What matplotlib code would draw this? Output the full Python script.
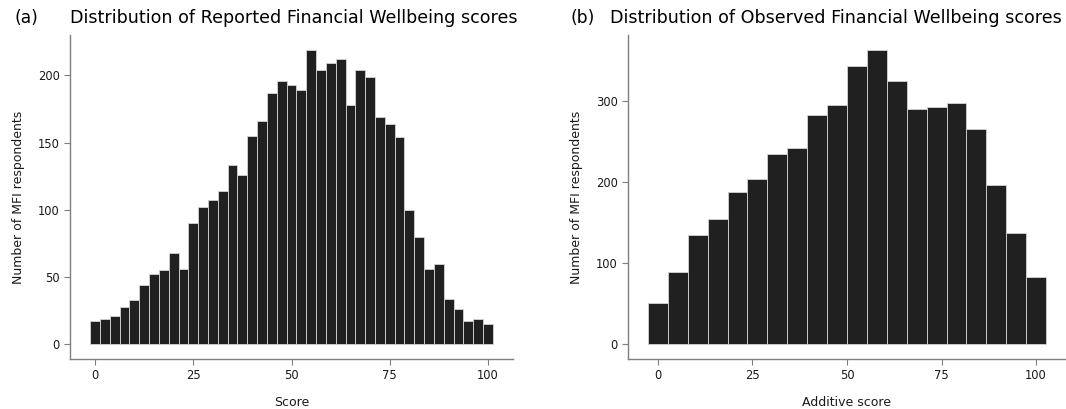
import numpy as np
import matplotlib
matplotlib.use('Agg')
import matplotlib.pyplot as plt

# (a) reported scores, bins of width 2.5 centred on 0, 2.5, ..., 100
reported_centers = np.arange(0, 100.1, 2.5)
reported_counts = [17, 19, 21, 28, 33, 44, 52, 55, 68, 56,
                   90, 102, 107, 114, 133, 126, 155, 166, 187, 196,
                   193, 189, 219, 204, 209, 212, 178, 204, 199, 169,
                   164, 154, 100, 80, 56, 60, 34, 26, 17, 19, 15]

# (b) observed additive scores, 20 bins centred between 0 and 100
observed_centers = np.linspace(0, 100, 20)
observed_counts = [51, 89, 135, 155, 188, 204, 234, 242, 283, 295,
                   343, 363, 325, 290, 293, 297, 265, 196, 137, 83]

titles = ['Distribution of Reported Financial Wellbeing scores',
          'Distribution of Observed Financial Wellbeing scores']
xlabels = ['Score', 'Additive score']
panel_tags = ['(a)', '(b)']

W, H = 1066, 409
fig = plt.figure(figsize=(W / 100, H / 100), dpi=100)


def px_axes(l, t, r, b):
    return fig.add_axes([l / W, 1 - b / H, (r - l) / W, (b - t) / H])


def style(ax):
    for s in ['top', 'right']:
        ax.spines[s].set_visible(False)
    for s in ['left', 'bottom']:
        ax.spines[s].set_color('#7f7f7f')
        ax.spines[s].set_linewidth(1.0)
    ax.tick_params(colors='#7f7f7f', labelcolor='#1a1a1a', labelsize=8.3,
                   length=4, width=0.8)
    ax.set_xticks([0, 25, 50, 75, 100])


ax1 = px_axes(70, 35, 513, 359)
w1 = reported_centers[1] - reported_centers[0]
ax1.bar(reported_centers, reported_counts, width=w1, color='#202020',
        edgecolor='#d4d4d4', linewidth=0.6)
ax1.set_xlim(-1.25 - 5.125, 101.25 + 5.125)
ax1.set_ylim(-10.95, 229.95)
ax1.set_yticks([0, 50, 100, 150, 200])
style(ax1)

ax2 = px_axes(628, 35, 1066, 359)
w2 = observed_centers[1] - observed_centers[0]
ax2.bar(observed_centers, observed_counts, width=w2, color='#202020',
        edgecolor='#d4d4d4', linewidth=0.6)
ax2.set_xlim(-w2 / 2 - 5.26, 100 + w2 / 2 + 5.26)
ax2.set_ylim(-18.15, 381.15)
ax2.set_yticks([0, 100, 200, 300])
style(ax2)

for ax, xl in zip([ax1, ax2], xlabels):
    ax.set_xlabel(xl, fontsize=9, labelpad=9.5, color='#1a1a1a')
    ax.set_ylabel('Number of MFI respondents', fontsize=9, labelpad=9,
                  color='#1a1a1a')

# panel tags and titles
fig.text(14 / W, 1 - 18 / H, panel_tags[0], fontsize=12.3, va='center', ha='left')
fig.text(70 / W, 1 - 18 / H, titles[0], fontsize=12.6, va='center', ha='left')
fig.text(571 / W, 1 - 18 / H, panel_tags[1], fontsize=12.3, va='center', ha='left')
fig.text(610 / W, 1 - 18 / H, titles[1], fontsize=12.6, va='center', ha='left')

fig.savefig('out.png', dpi=100)
